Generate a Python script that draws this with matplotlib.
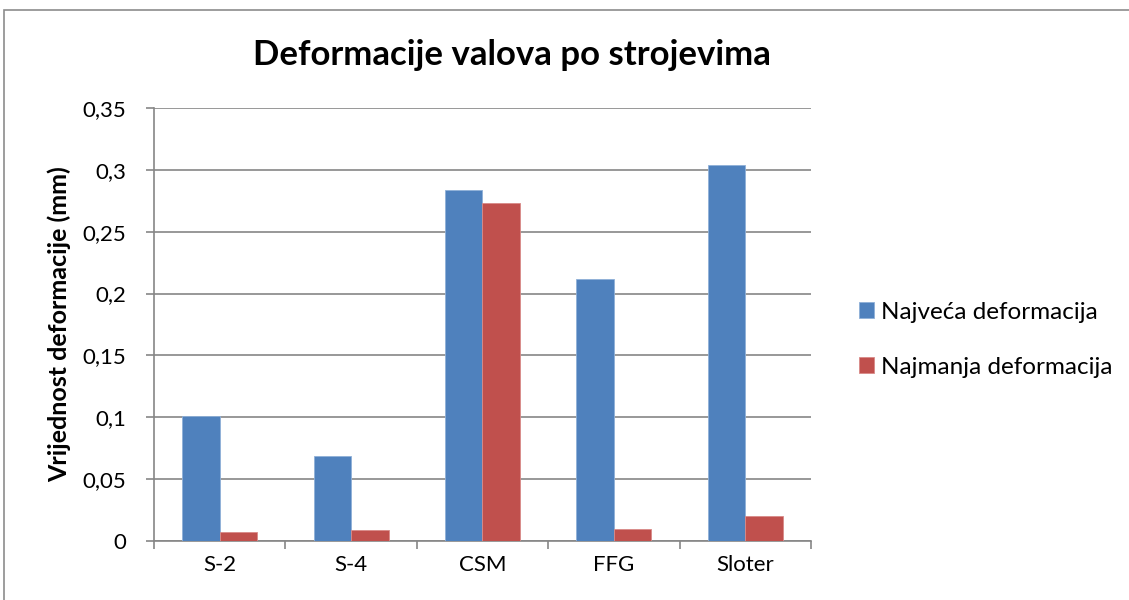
import matplotlib
matplotlib.use("Agg")
import matplotlib.pyplot as plt
from matplotlib.patches import Rectangle
from matplotlib.ticker import FuncFormatter, MultipleLocator
import numpy as np

categories = ["S-2", "S-4", "CSM", "FFG", "Sloter"]
najveca = [0.101, 0.069, 0.284, 0.212, 0.304]
najmanja = [0.007, 0.009, 0.273, 0.010, 0.020]
series_names = ["Najveća deformacija", "Najmanja deformacija"]
colors = ["#4F81BD", "#C0504D"]

plt.rcParams["font.family"] = ["Lato", "DejaVu Sans"]

fig = plt.figure(figsize=(11.29, 6.0), dpi=100)
ax = fig.add_axes([0.1364, 0.0983, 0.5819, 0.7217])

# chart border
fig.patches.append(Rectangle((4 / 1129, -0.05), 1.2, (600 - 10) / 600 + 0.05,
                             transform=fig.transFigure, fill=False,
                             edgecolor="#8c8c8c", linewidth=1.2))

x = np.arange(len(categories))
w = 1 / 3.5
ax.bar(x - w / 2, najveca, w, color=colors[0], edgecolor="#8fb0d8",
       linewidth=0.6, label=series_names[0], zorder=3)
ax.bar(x + w / 2, najmanja, w, color=colors[1], edgecolor="#d98a88",
       linewidth=0.6, label=series_names[1], zorder=3)

ax.set_xlim(-0.5, len(categories) - 0.5)
ax.set_ylim(0, 0.35)
ax.yaxis.set_major_locator(MultipleLocator(0.05))
ax.yaxis.set_major_formatter(FuncFormatter(lambda v, p: f"{v:.2f}".rstrip("0").rstrip(".").replace(".", ",")))
ax.set_xticks(x)
ax.set_xticklabels(categories)
ax.set_xticks(np.arange(-0.5, len(categories)), minor=True)
ax.tick_params(axis="x", which="major", length=0, labelsize=16, pad=10)
ax.tick_params(axis="x", which="minor", length=6, color="#868686", width=1.2)
ax.tick_params(axis="y", length=6, color="#868686", width=1.2, labelsize=16, pad=14)

ax.grid(axis="y", color="#868686", linewidth=1.2, zorder=0)
for s in ["top", "right"]:
    ax.spines[s].set_visible(False)
for s in ["left", "bottom"]:
    ax.spines[s].set_color("#868686")
    ax.spines[s].set_linewidth(1.2)

ax.set_ylabel("Vrijednost deformacije (mm)", fontsize=18, fontweight="bold", labelpad=8)
fig.text(512 / 1129, 1 - 55 / 600, "Deformacije valova po strojevima",
         fontsize=25, fontweight="bold", ha="center", va="center")

ax.legend(loc="center left", bbox_to_anchor=(1.04, 0.465), frameon=False,
          fontsize=17.5, handlelength=0.6, handleheight=0.6, handletextpad=0.3,
          labelspacing=1.4)

fig.savefig("out.png", dpi=100)
